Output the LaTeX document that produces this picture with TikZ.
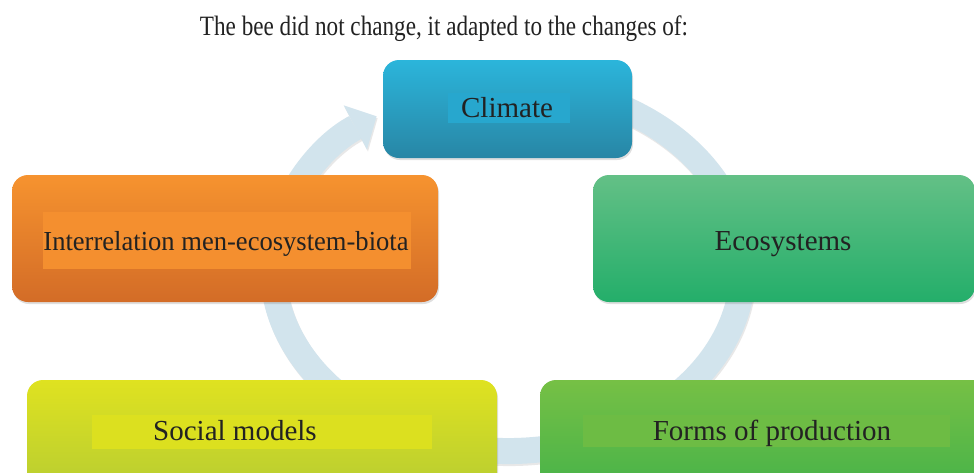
\documentclass[tikz,border=0pt]{standalone}
\usepackage{fontspec}
\setmainfont{Liberation Serif}
\usepackage{graphicx}
\usetikzlibrary{arrows.meta,shadows}
\definecolor{ringc}{HTML}{D2E4ED}
\definecolor{txt}{HTML}{222222}
\definecolor{climT}{HTML}{2BB5DB}
\definecolor{climB}{HTML}{2886A5}
\definecolor{climH}{HTML}{27A7CE}
\definecolor{intT}{HTML}{F6932F}
\definecolor{intB}{HTML}{D36C27}
\definecolor{intH}{HTML}{F48F2F}
\definecolor{ecoT}{HTML}{63C086}
\definecolor{ecoB}{HTML}{24AE6A}
\definecolor{socT}{HTML}{DFE220}
\definecolor{socB}{HTML}{B2CA34}
\definecolor{socH}{HTML}{DCE01F}
\definecolor{proT}{HTML}{76C045}
\definecolor{proB}{HTML}{40B14A}
\definecolor{proH}{HTML}{6DBC44}
\tikzset{
  box/.style={draw=none, rounded corners=16pt, inner sep=0pt,
    drop shadow={opacity=0.25, shadow xshift=1pt, shadow yshift=-2pt}},
  hl/.style={draw=none, inner sep=0pt},
  lbl/.style={anchor=base, text=txt, inner sep=0pt, font=\fontsize{29}{34}\selectfont},
  ring/.style={draw=ringc, line width=26pt,
    -{Triangle[width=50pt, length=24pt, line width=0pt]}}
}
\begin{document}
\begin{tikzpicture}[x=1pt,y=-1pt]
\useasboundingbox (0,0) rectangle (974,472);
\clip (0,0) rectangle (974,472);
\fill[white] (0,0) rectangle (974,472);
% ring with shadow
\draw[ring, draw=black!25, opacity=0.35] (549.8,89.8) arc[start angle=-80, end angle=236, x radius=235, y radius=183];
\draw[ring] (548.8,87.8) arc[start angle=-80, end angle=236, x radius=235, y radius=183];
% boxes
\node[box, top color=climT, bottom color=climB, minimum width=249pt, minimum height=98pt] (clim) at (507.5,109) {};
\node[box, top color=intT, bottom color=intB, minimum width=426pt, minimum height=127pt] (inter) at (225,238.5) {};
\node[box, top color=ecoT, bottom color=ecoB, minimum width=382pt, minimum height=127pt] (eco) at (784,238.5) {};
\node[box, top color=socT, bottom color=socB, minimum width=470pt, minimum height=127pt] (soc) at (262,443.5) {};
\node[box, top color=proT, bottom color=proB, minimum width=470pt, minimum height=127pt] (pro) at (775,443.5) {};
% text highlights
\node[hl, fill=climH, minimum width=122pt, minimum height=30pt] (climhl) at (509,108) {};
\node[hl, fill=intH, minimum width=368pt, minimum height=57pt] (inthl) at (227,240.5) {};
\node[hl, fill=socH, minimum width=340pt, minimum height=34pt] (sochl) at (262,432) {};
\node[hl, fill=proH, minimum width=367pt, minimum height=32pt] (prohl) at (766.5,431) {};
% labels
\node[lbl, font=\fontsize{28}{33}\selectfont] (title) at (444,35) {\scalebox{0.827}[1]{The bee did not change, it adapted to the changes of:}};
\node[lbl] (climt) at (507,117) {Climate};
\node[lbl, font=\fontsize{27.5}{32}\selectfont] (intt) at (226,250) {\scalebox{0.966}[1]{Interrelation men-ecosystem-biota}};
\node[lbl] (ecot) at (783,250.5) {Ecosystems};
\node[lbl] (soct) at (235,440.5) {Social models};
\node[lbl] (prot) at (772,440) {Forms of production};
\end{tikzpicture}
\end{document}
